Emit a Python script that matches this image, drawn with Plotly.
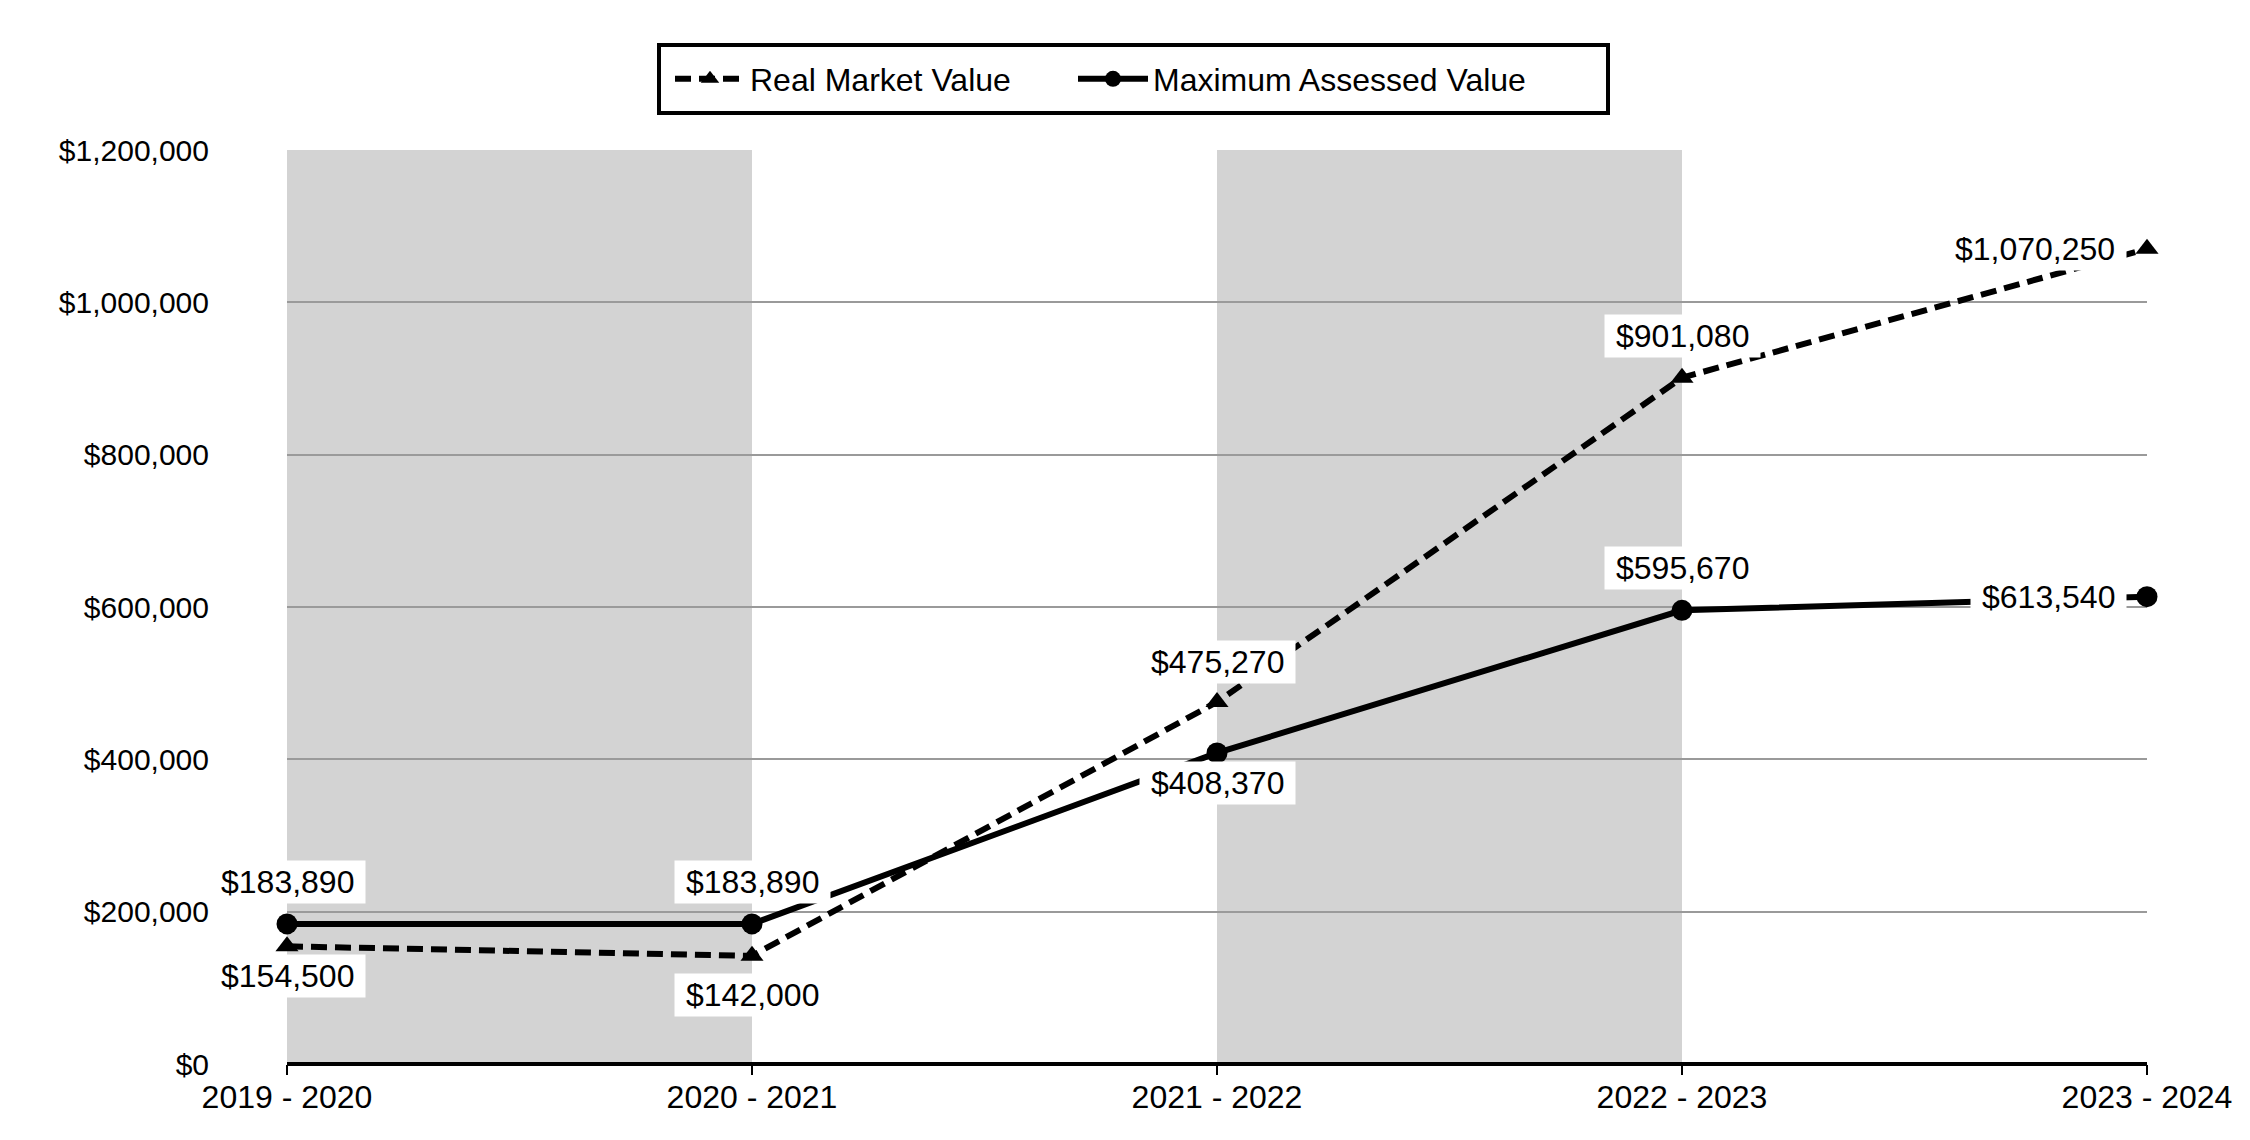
import plotly.graph_objects as go

categories = ["2019 - 2020", "2020 - 2021", "2021 - 2022", "2022 - 2023", "2023 - 2024"]
real_market_value = [154500, 142000, 475270, 901080, 1070250]
max_assessed_value = [183890, 183890, 408370, 595670, 613540]
y_ticks = [0, 200000, 400000, 600000, 800000, 1000000, 1200000]
y_tick_labels = ["$0", "$200,000", "$400,000", "$600,000", "$800,000", "$1,000,000", "$1,200,000"]
shaded_bands = [(0, 1), (2, 3)]

# label placement: (dx, dy, xanchor)
rmv_pos = [(0, -30, "center"), (0, -39, "center"), (0, 40, "center"), (0, 42, "center"), (-20, 0, "right")]
mav_pos = [(0, 42, "center"), (0, 42, "center"), (0, -30, "center"), (0, 42, "center"), (-20, 0, "right")]

x_idx = list(range(len(categories)))
FONT = "Liberation Sans, Arial, sans-serif"
LABEL_SIZE = 32

L, R, T, B = 279, 111, 142, 84
W, H = 2250, 1140
PW, PH = W - L - R, H - T - B

def px_x(p):
    return (p - L) / PW

def px_y(p):
    return 1 + (T - p) / PH

fig = go.Figure()
fig.add_trace(go.Scatter(
    x=x_idx, y=real_market_value, name="Real Market Value", mode="lines+markers",
    line=dict(color="black", width=6, dash="16px,8px"),
    marker=dict(symbol="triangle-up", size=20, color="black"), cliponaxis=False,
    legend="legend"))
fig.add_trace(go.Scatter(
    x=x_idx, y=max_assessed_value, name="Maximum Assessed Value", mode="lines+markers",
    line=dict(color="black", width=6),
    marker=dict(symbol="circle", size=21, color="black"), cliponaxis=False,
    legend="legend2"))

for x0, x1 in shaded_bands:
    fig.add_shape(type="rect", xref="x", yref="y", x0=x0, x1=x1, y0=0, y1=1200000,
                  fillcolor="#d3d3d3", line_width=0, layer="below")

# legend frame
fig.add_shape(type="rect", xref="paper", yref="paper",
              x0=px_x(651), x1=px_x(1600), y0=px_y(105), y1=px_y(37),
              line=dict(color="black", width=4), fillcolor="rgba(0,0,0,0)")

def text_w(s):
    n_c = s.count(",")
    return LABEL_SIZE * (0.556 * (len(s) - n_c) + 0.278 * n_c) + 16

anns = []
for vals, pos in ((real_market_value, rmv_pos), (max_assessed_value, mav_pos)):
    for i, (v, (dx, dy, xa)) in enumerate(zip(vals, pos)):
        t = "${:,}".format(v)
        anns.append(dict(x=i, y=v, xref="x", yref="y", text=t, showarrow=False,
                         xanchor=xa, yanchor="middle", xshift=dx, yshift=dy,
                         width=text_w(t), align="center",
                         bgcolor="white", borderpad=3,
                         font=dict(family=FONT, size=LABEL_SIZE, color="black")))
fig.update_layout(annotations=anns)

legend_common = dict(orientation="h", xanchor="left", y=px_y(71), yanchor="middle",
                     borderwidth=0, bgcolor="rgba(0,0,0,0)",
                     font=dict(family=FONT, size=32, color="black"), itemwidth=70)

fig.update_layout(
    width=W, height=H,
    margin=dict(l=L, r=R, t=T, b=B, autoexpand=False),
    plot_bgcolor="white", paper_bgcolor="white",
    font=dict(family=FONT, size=30, color="black"),
    showlegend=True,
    legend=dict(x=px_x(662), **legend_common),
    legend2=dict(x=px_x(1065), **legend_common),
    xaxis=dict(range=[0, 4], tickvals=x_idx, ticktext=categories, showgrid=False,
               zeroline=False, showline=False, ticks="outside", ticklen=10, tickwidth=2,
               tickcolor="black", ticklabelstandoff=-5, tickfont=dict(size=32)),
    yaxis=dict(range=[0, 1200000], tickvals=y_ticks, ticktext=y_tick_labels,
               showgrid=True, gridcolor="#9a9a9a", gridwidth=2, zeroline=True,
               zerolinecolor="black", zerolinewidth=4, showline=False, ticks="",
               ticklabelstandoff=77, tickfont=dict(size=30)),
)

fig.write_html("out.html")
